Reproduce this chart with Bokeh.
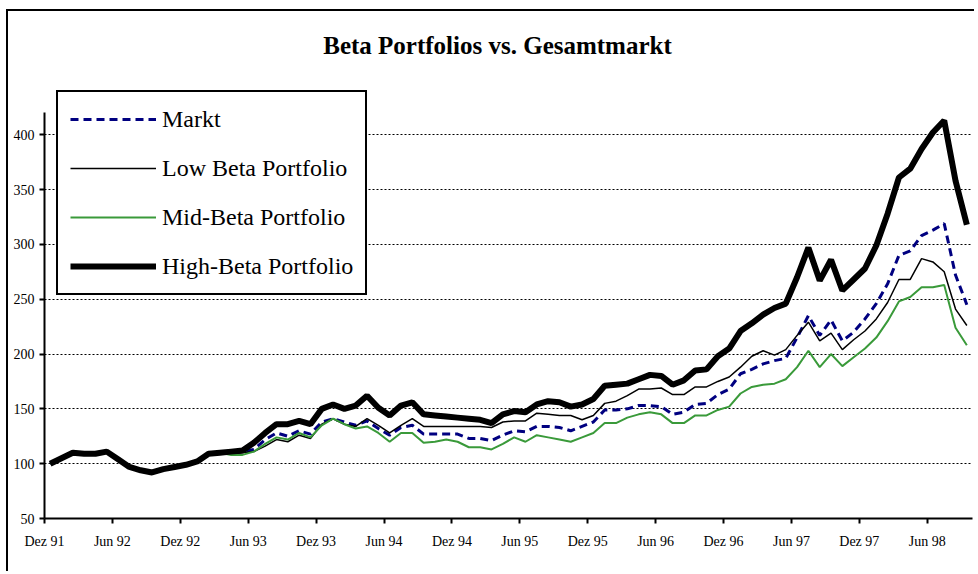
from bokeh.plotting import figure
from bokeh.models import Range1d, FixedTicker, Legend, LegendItem, Label
from bokeh.embed import file_html
from bokeh.resources import INLINE

# ---- data (monthly, Dez 91 .. Sep 98, index 100 = Dez 91) ----
tick_labels = ["Dez 91", "Jun 92", "Dez 92", "Jun 93", "Dez 93", "Jun 94", "Dez 94",
               "Jun 95", "Dez 95", "Jun 96", "Dez 96", "Jun 97", "Dez 97", "Jun 98"]

high_beta = [100, 105, 110, 109, 109, 111, 104, 97, 94, 92, 95, 97, 99, 102, 109, 110,
             111, 112, 119, 128, 136, 136, 139, 136, 150, 154, 150, 153, 162, 151, 144, 153,
             156, 145, 144, 143, 142, 141, 140, 137, 145, 148, 147, 154, 157, 156, 152, 154,
             159, 171, 172, 173, 177, 181, 180, 172, 176, 185, 186, 198, 205, 221, 228, 236,
             242, 246, 270, 297, 267, 286, 258, 268, 278, 299, 328, 361, 369, 387, 402, 413,
             358, 318]

low_beta = [100, 105, 110, 109, 109, 111, 104, 97, 94, 92, 95, 97, 99, 102, 109, 110,
            109, 110, 111, 116, 122, 120, 126, 123, 136, 141, 136, 134, 141, 135, 128, 135,
            141, 134, 134, 134, 134, 134, 134, 133, 138, 139, 139, 146, 145, 144, 144, 140,
            144, 155, 157, 162, 168, 168, 169, 163, 163, 170, 170, 175, 179, 188, 198, 203,
            199, 204, 217, 229, 212, 219, 204, 213, 221, 232, 247, 268, 268, 287, 284, 275,
            241, 226]

mid_beta = [100, 105, 110, 109, 109, 111, 104, 97, 94, 92, 95, 97, 99, 102, 109, 110,
            108, 108, 111, 118, 124, 122, 128, 124, 135, 141, 136, 132, 134, 128, 120, 128,
            128, 119, 120, 122, 120, 115, 115, 113, 118, 124, 120, 126, 124, 122, 120, 124,
            128, 137, 137, 142, 145, 147, 145, 137, 137, 144, 144, 149, 152, 164, 170, 172,
            173, 177, 188, 203, 188, 200, 189, 197, 205, 215, 230, 248, 252, 261, 261, 263,
            224, 208]

markt = [100, 105, 110, 109, 109, 111, 104, 97, 94, 92, 95, 97, 99, 102, 109, 110,
         110, 111, 113, 122, 128, 125, 130, 127, 138, 141, 138, 135, 139, 132, 126, 133,
         135, 127, 127, 127, 127, 123, 123, 121, 126, 130, 129, 134, 134, 133, 130, 134,
         138, 149, 149, 150, 153, 153, 152, 145, 147, 154, 155, 163, 168, 182, 186, 191,
         194, 196, 215, 235, 217, 231, 212, 220, 232, 246, 264, 290, 294, 308, 313, 319,
         272, 245]

y_ticks = [50, 100, 150, 200, 250, 300, 350, 400]
y_axis_max = 420

# category positions (centre of each monthly category)
n = len(markt)
xs = [i + 0.5 for i in range(n)]
tick_pos = [6 * k for k in range(len(tick_labels))]

SERIF = "Liberation Serif"

# frame extends to the top of the chart area so that title and legend are not clipped;
# the y axis itself is bounded to 50..420
p = figure(width=968, height=562, x_range=Range1d(0, n), y_range=Range1d(50, 512.4),
           output_backend="svg", toolbar_location=None,
           min_border_left=36, min_border_right=4, min_border_top=0, min_border_bottom=55)
p.styles = {"border-left": "2px solid black", "border-top": "2px solid black",
            "margin-left": "6px", "margin-top": "9px"}
p.outline_line_color = None
p.background_fill_color = "white"
p.border_fill_color = "white"

# axes
p.xaxis.ticker = FixedTicker(ticks=tick_pos)
p.xaxis.major_label_overrides = {t: l for t, l in zip(tick_pos, tick_labels)}
p.xaxis.minor_tick_line_color = None
p.xaxis.major_tick_in = 0
p.xaxis.major_tick_out = 5
p.xaxis.axis_line_width = 2
p.xaxis.major_tick_line_width = 2
p.xaxis.major_label_text_font = SERIF
p.xaxis.major_label_text_font_size = "14px"
p.xaxis.major_label_text_color = "black"
p.xaxis.major_label_standoff = 10

p.yaxis.ticker = FixedTicker(ticks=y_ticks)
p.yaxis.bounds = (50, y_axis_max)
p.yaxis.minor_tick_line_color = None
p.yaxis.major_tick_in = 0
p.yaxis.major_tick_out = 5
p.yaxis.axis_line_width = 2
p.yaxis.major_tick_line_width = 2
p.yaxis.major_label_text_font = SERIF
p.yaxis.major_label_text_font_size = "14px"
p.yaxis.major_label_text_color = "black"
p.yaxis.major_label_standoff = 5

p.xgrid.grid_line_color = None
p.ygrid.ticker = FixedTicker(ticks=y_ticks[1:])
p.ygrid.grid_line_color = "black"
p.ygrid.grid_line_dash = "2 2"
p.ygrid.grid_line_width = 1

# series
r_markt = p.line(xs, markt, line_color="#000080", line_width=3, line_dash="8 5")
r_low = p.line(xs, low_beta, line_color="black", line_width=1.5)
r_mid = p.line(xs, mid_beta, line_color="#3a9a3a", line_width=2)
r_high = p.line(xs, high_beta, line_color="black", line_width=6)

legend = Legend(items=[
    LegendItem(label="Markt", renderers=[r_markt]),
    LegendItem(label="Low Beta Portfolio", renderers=[r_low]),
    LegendItem(label="Mid-Beta Portfolio", renderers=[r_mid]),
    LegendItem(label="High-Beta Portfolio", renderers=[r_high]),
], location=(12, 223))
legend.label_text_font = SERIF
legend.label_text_font_size = "24px"
legend.label_text_color = "black"
legend.glyph_width = 86
legend.glyph_height = 30
legend.label_height = 30
legend.label_standoff = 6
legend.spacing = 19
legend.padding = 12
legend.margin = 0
legend.border_line_color = "black"
legend.border_line_alpha = 1
legend.border_line_width = 2
legend.background_fill_color = "white"
legend.background_fill_alpha = 1
p.add_layout(legend, "center")

title = Label(x=453, y=473, x_units="screen", y_units="screen",
              text="Beta Portfolios vs. Gesamtmarkt", text_font=SERIF,
              text_font_style="bold", text_font_size="25px", text_color="black",
              text_align="center", text_baseline="middle")
p.add_layout(title)

open("out.html", "w").write(file_html(p, INLINE))
